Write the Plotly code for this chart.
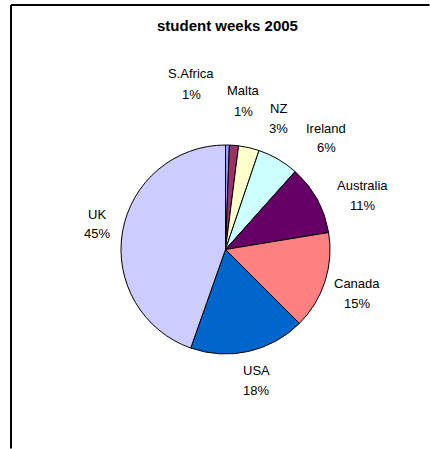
import plotly.graph_objects as go

# ---- data ----
countries = ["S.Africa", "Malta", "NZ", "Ireland", "Australia", "Canada", "USA", "UK"]
shares = [0.6, 1.4, 3.2, 6.4, 10.8, 15.1, 17.9, 44.6]
colors = ["#9999FF", "#993366", "#FFFFCC", "#CCFFFF", "#660066", "#FF8080", "#0066CC", "#CCCCFF"]
title_text = "student weeks 2005"

# ---- layout constants (pixels) ----
W, H = 430, 449
CX, CY, R = 225.5, 249.5, 104.5
# label block centres (px, image coords)
label_xy = {
    "S.Africa": (191, 84),
    "Malta": (243, 101),
    "NZ": (278, 118.5),
    "Ireland": (326, 138),
    "Australia": (362, 195),
    "Canada": (356.5, 293),
    "USA": (256, 380),
    "UK": (97, 224),
}
FONT = "Liberation Sans, Arial, sans-serif"

fig = go.Figure()
fig.add_trace(go.Pie(
    labels=countries,
    values=shares,
    sort=False,
    direction="clockwise",
    rotation=0,
    marker=dict(colors=colors, line=dict(color="#000000", width=1)),
    textinfo="none",
    hoverinfo="label+percent",
    showlegend=False,
    domain=dict(x=[(CX - R) / W, (CX + R) / W],
                y=[1 - (CY + R) / H, 1 - (CY - R) / H]),
))

total = sum(shares)
annotations = []
for name, v in zip(countries, shares):
    px, py = label_xy[name]
    pct = f"{round(v / total * 100):d}%"
    for txt, dy in ((name, -10), (pct, 10)):
        annotations.append(dict(
            text=txt, x=px / W, y=1 - (py + dy) / H, xref="paper", yref="paper",
            xanchor="center", yanchor="middle", showarrow=False,
            font=dict(family=FONT, size=13, color="#000000"),
        ))
annotations.append(dict(
    text="<b>" + title_text + "</b>", x=227 / W, y=1 - 26 / H, xref="paper", yref="paper",
    xanchor="center", yanchor="middle", showarrow=False,
    font=dict(family=FONT, size=15, color="#000000"),
))

shapes = [
    dict(type="line", xref="paper", yref="paper", x0=11 / W, x1=429.5 / W, y0=1 - 5 / H, y1=1 - 5 / H,
         line=dict(color="#000000", width=2)),
    dict(type="line", xref="paper", yref="paper", x0=11 / W, x1=11 / W, y0=1 - 5 / H, y1=0.5 / H,
         line=dict(color="#000000", width=2)),
]

fig.update_layout(
    width=W, height=H,
    margin=dict(l=0, r=0, t=0, b=0),
    paper_bgcolor="#FFFFFF", plot_bgcolor="#FFFFFF",
    annotations=annotations, shapes=shapes,
)

fig.write_html("out.html", config={"displayModeBar": False},
               post_script="document.body.style.margin='0';document.body.style.overflow='hidden';")
